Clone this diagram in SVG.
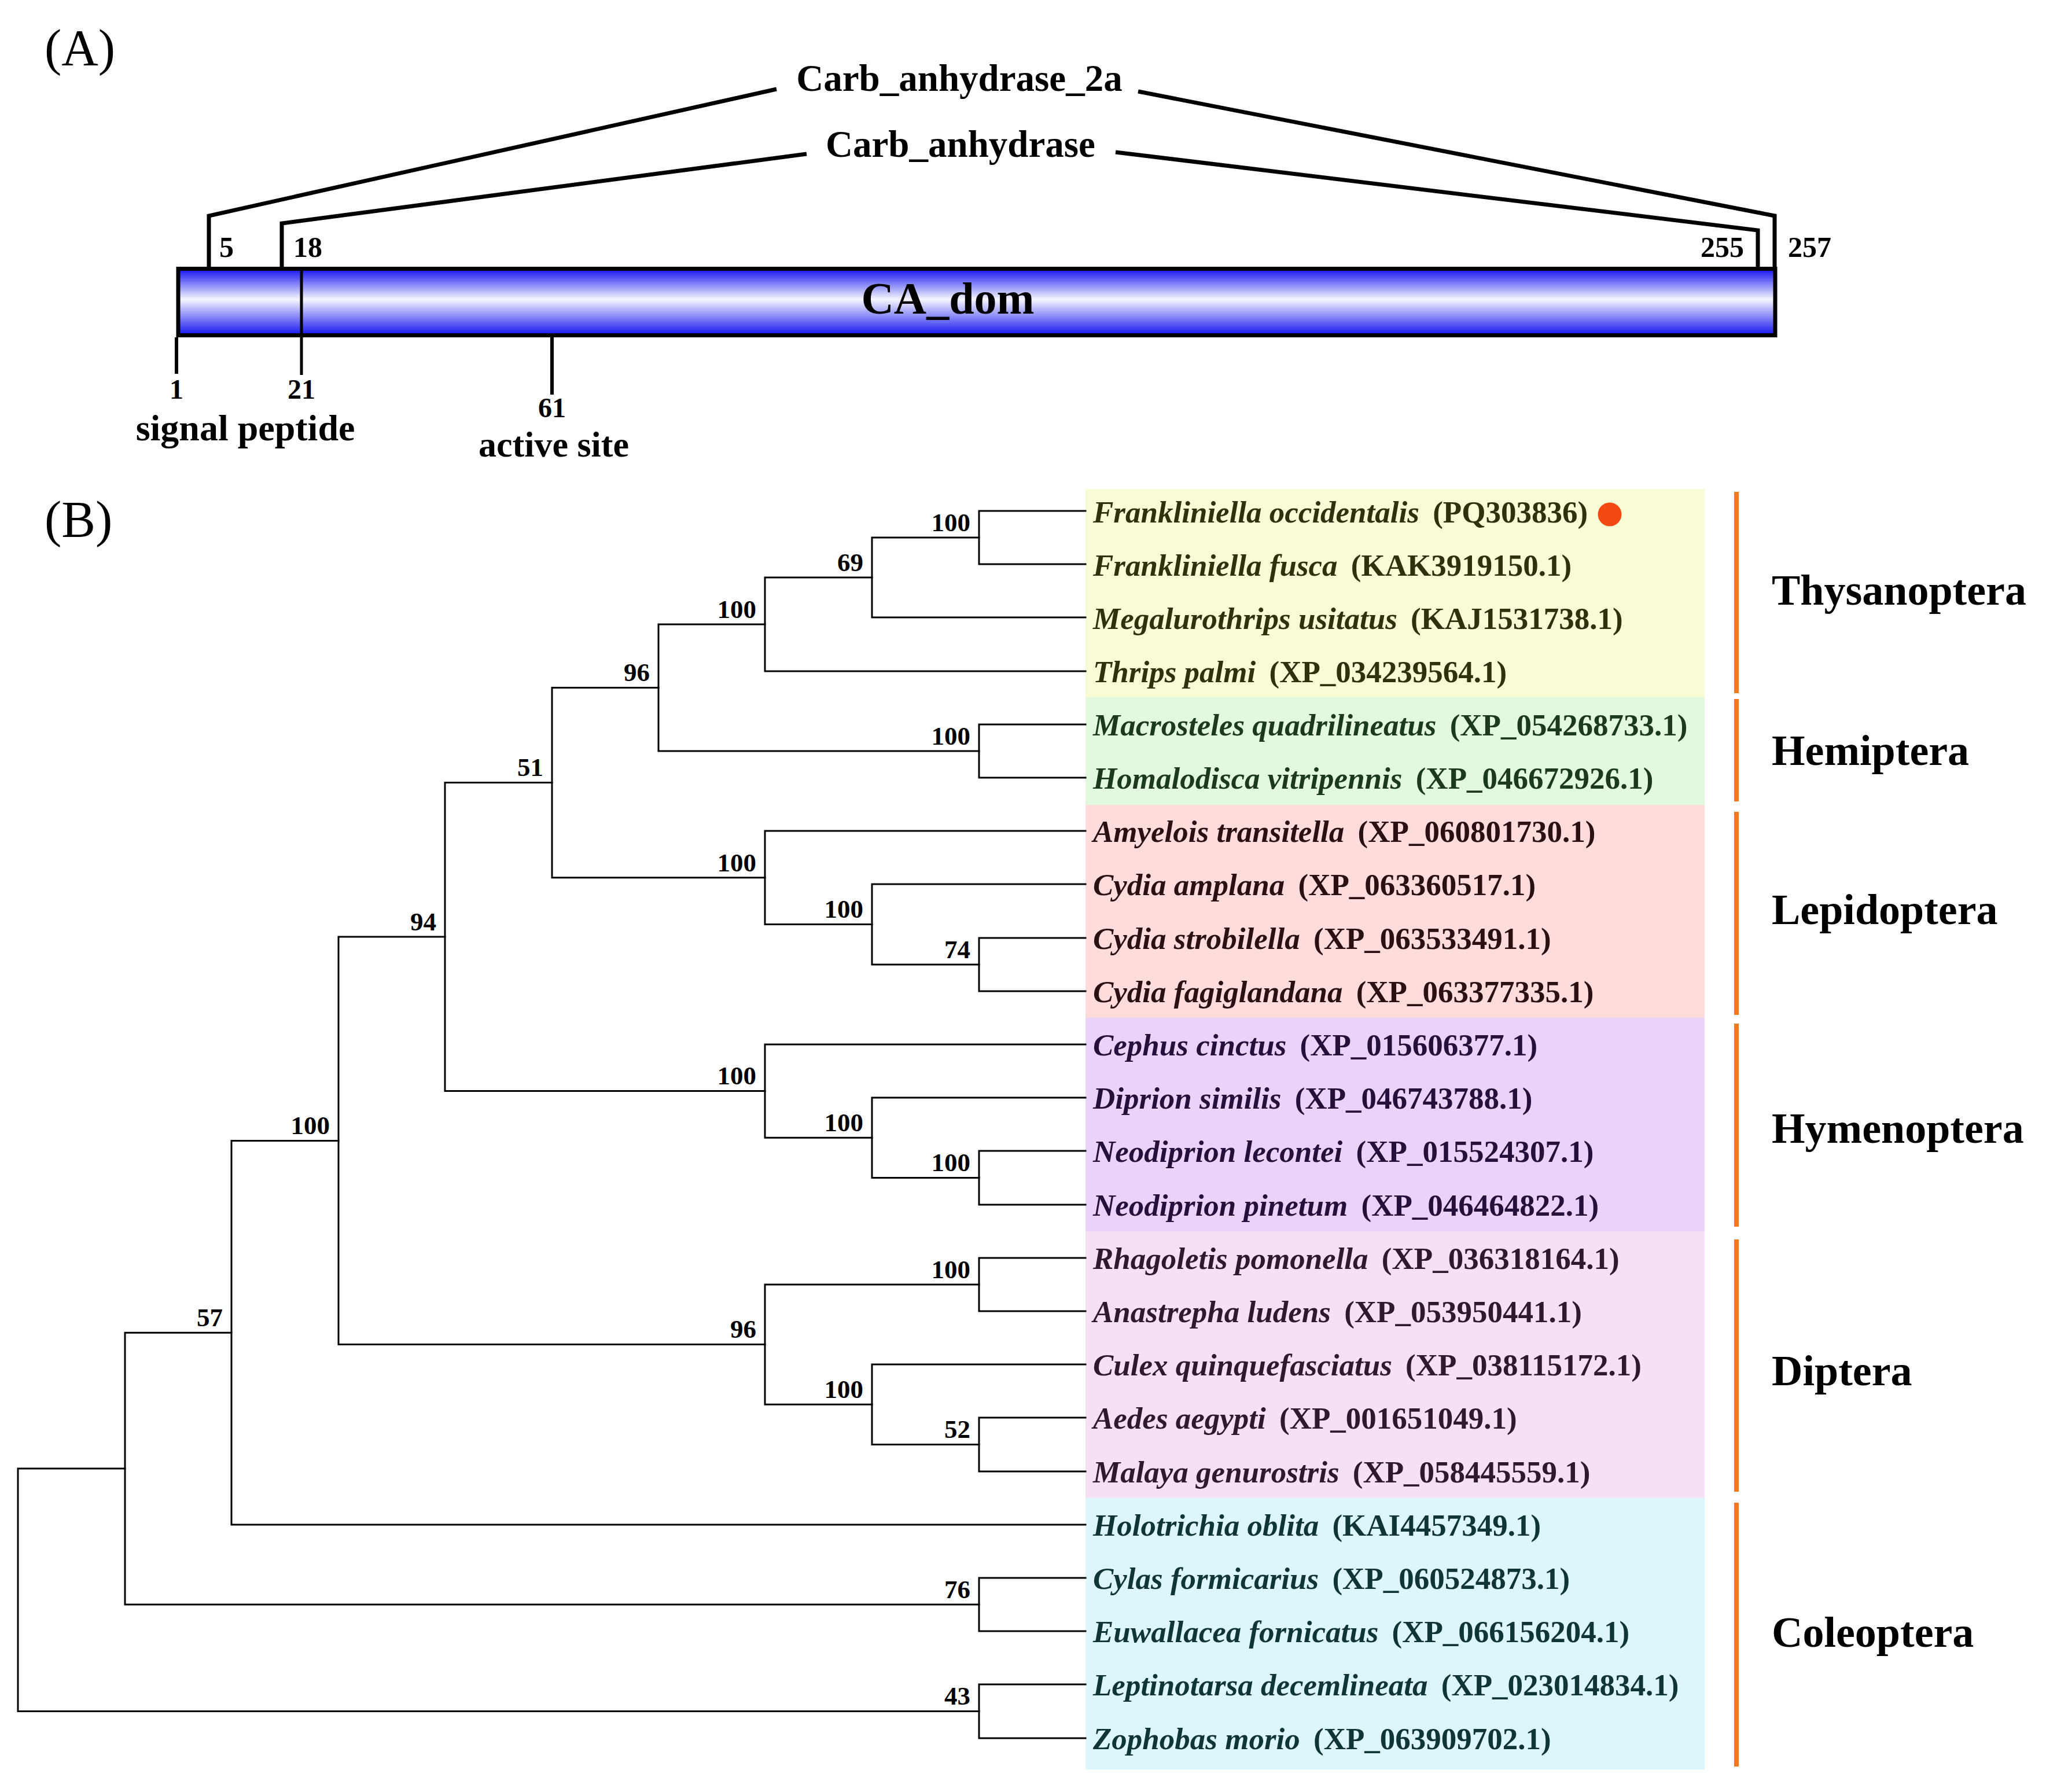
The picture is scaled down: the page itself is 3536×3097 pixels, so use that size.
<svg xmlns="http://www.w3.org/2000/svg" width="3536" height="3097" viewBox="0 0 3536 3097">
<style>
.t{font-family:"Liberation Serif","Times New Roman",serif;font-weight:bold}
.pl{font-family:"Liberation Serif","Times New Roman",serif;font-weight:normal}
.num{font-size:48px}
.bs{font-size:45px;text-anchor:end}
.lf{font-size:53px}
.sp{font-style:italic}
.grp{font-size:74px;fill:#000}
.br{fill:none;stroke:#000;stroke-width:3;stroke-linecap:square}
.dl{fill:none;stroke:#000;stroke-width:7;stroke-linejoin:miter}
.tick{stroke:#000;stroke-width:6}
.ob{stroke:#F47A20;stroke-width:8}
</style>
<defs>
<linearGradient id="bar" x1="0" y1="0" x2="0" y2="1">
<stop offset="0" stop-color="#1212EE"/>
<stop offset="0.46" stop-color="#F6F6FF"/>
<stop offset="1" stop-color="#1212EE"/>
</linearGradient>
</defs>
<rect width="3536" height="3097" fill="#fff"/>

<!-- Panel A -->
<g id="panelA">
<text class="pl" x="77" y="112" font-size="88">(A)</text>
<g id="domain-lines">
<polyline class="dl" points="1342,154 361,373 361,462"/>
<polyline class="dl" points="1967,158 3067,373 3067,462"/>
<polyline class="dl" points="1394,266 487,386 487,462"/>
<polyline class="dl" points="1928,263 3038,398 3038,462"/>
</g>
<text class="t" x="1658" y="157" font-size="65" text-anchor="middle">Carb_anhydrase_2a</text>
<text class="t" x="1660" y="271" font-size="65" text-anchor="middle">Carb_anhydrase</text>
<text class="t" x="379" y="444" font-size="50">5</text>
<text class="t" x="507" y="444" font-size="50">18</text>
<text class="t" x="2939" y="444" font-size="50">255</text>
<text class="t" x="3090" y="444" font-size="50">257</text>
<g id="ca-dom">
<rect x="308" y="464.5" width="2760" height="115" fill="url(#bar)" stroke="#000" stroke-width="7"/>
<line x1="521" y1="462" x2="521" y2="648" stroke="#000" stroke-width="5"/>
<text class="t" x="1638" y="542" font-size="78" text-anchor="middle">CA_dom</text>
</g>
<line class="tick" x1="305" y1="583" x2="305" y2="646"/>
<line class="tick" x1="954" y1="583" x2="954" y2="682"/>
<text class="t num" x="305" y="689" text-anchor="middle">1</text>
<text class="t num" x="521" y="689" text-anchor="middle">21</text>
<text class="t num" x="954" y="721" text-anchor="middle">61</text>
<text class="t" x="424" y="761" font-size="64" text-anchor="middle">signal peptide</text>
<text class="t" x="957" y="789" font-size="62" text-anchor="middle">active site</text>
</g>

<!-- Panel B -->
<text class="pl" x="77" y="927" font-size="88">(B)</text>

<g id="clade-bg">
<rect x="1876" y="845" width="1070" height="360" fill="#F8FBD3"/>
<rect x="1876" y="1205" width="1070" height="186" fill="#E2F9DF"/>
<rect x="1876" y="1391" width="1070" height="368" fill="#FDDCDB"/>
<rect x="1876" y="1759" width="1070" height="369" fill="#E9D3F9"/>
<rect x="1876" y="2128" width="1070" height="461" fill="#F6E0F4"/>
<rect x="1876" y="2589" width="1070" height="469" fill="#DDF6FA"/>
</g>

<g id="connectors">
<path class="br" d="M1692,883V975M1692,883H1876M1692,975H1876"/>
<path class="br" d="M1507,929V1067M1507,929H1692M1507,1067H1876"/>
<path class="br" d="M1322,998V1160M1322,998H1507M1322,1160H1876"/>
<path class="br" d="M1692,1252V1344M1692,1252H1876M1692,1344H1876"/>
<path class="br" d="M1138,1079V1298M1138,1079H1322M1138,1298H1692"/>
<path class="br" d="M1692,1621V1713M1692,1621H1876M1692,1713H1876"/>
<path class="br" d="M1507,1528V1667M1507,1528H1876M1507,1667H1692"/>
<path class="br" d="M1322,1436V1597.5M1322,1436H1876M1322,1597.5H1507"/>
<path class="br" d="M954,1188.5V1516.75M954,1188.5H1138M954,1516.75H1322"/>
<path class="br" d="M1692,1989V2082M1692,1989H1876M1692,2082H1876"/>
<path class="br" d="M1507,1897V2035.5M1507,1897H1876M1507,2035.5H1692"/>
<path class="br" d="M1322,1805V1966.25M1322,1805H1876M1322,1966.25H1507"/>
<path class="br" d="M769,1352.6V1885.6M769,1352.6H954M769,1885.6H1322"/>
<path class="br" d="M1692,2174V2266M1692,2174H1876M1692,2266H1876"/>
<path class="br" d="M1692,2450V2543M1692,2450H1876M1692,2543H1876"/>
<path class="br" d="M1507,2358V2496.5M1507,2358H1876M1507,2496.5H1692"/>
<path class="br" d="M1322,2220V2427.25M1322,2220H1692M1322,2427.25H1507"/>
<path class="br" d="M585,1619.1V2323.6M585,1619.1H769M585,2323.6H1322"/>
<path class="br" d="M400,1971.4V2635M400,1971.4H585M400,2635H1876"/>
<path class="br" d="M1692,2727V2819M1692,2727H1876M1692,2819H1876"/>
<path class="br" d="M216,2303.2V2773M216,2303.2H400M216,2773H1692"/>
<path class="br" d="M1692,2911V3004M1692,2911H1876M1692,3004H1876"/>
<path class="br" d="M31,2538.1V2957.5M31,2538.1H216M31,2957.5H1692"/>
</g>

<g id="bootstrap">
<text class="t bs" x="1677" y="918">100</text>
<text class="t bs" x="1492" y="987">69</text>
<text class="t bs" x="1307" y="1068">100</text>
<text class="t bs" x="1677" y="1287">100</text>
<text class="t bs" x="1123" y="1177">96</text>
<text class="t bs" x="1677" y="1656">74</text>
<text class="t bs" x="1492" y="1586">100</text>
<text class="t bs" x="1307" y="1506">100</text>
<text class="t bs" x="939" y="1341">51</text>
<text class="t bs" x="1677" y="2024">100</text>
<text class="t bs" x="1492" y="1955">100</text>
<text class="t bs" x="1307" y="1874">100</text>
<text class="t bs" x="754" y="1608">94</text>
<text class="t bs" x="1677" y="2209">100</text>
<text class="t bs" x="1677" y="2485">52</text>
<text class="t bs" x="1492" y="2416">100</text>
<text class="t bs" x="1307" y="2312">96</text>
<text class="t bs" x="570" y="1960">100</text>
<text class="t bs" x="385" y="2292">57</text>
<text class="t bs" x="1677" y="2762">76</text>
<text class="t bs" x="1677" y="2946">43</text>
</g>

<g id="leaves">
<g fill="#2F300E">
<text class="t lf" x="1889" y="903"><tspan class="sp">Frankliniella occidentalis</tspan><tspan dx="10"> (PQ303836)</tspan></text>
<text class="t lf" x="1889" y="995"><tspan class="sp">Frankliniella fusca</tspan><tspan dx="10"> (KAK3919150.1)</tspan></text>
<text class="t lf" x="1889" y="1087"><tspan class="sp">Megalurothrips usitatus</tspan><tspan dx="10"> (KAJ1531738.1)</tspan></text>
<text class="t lf" x="1889" y="1179"><tspan class="sp">Thrips palmi</tspan><tspan dx="10"> (XP_034239564.1)</tspan></text>
</g>
<circle cx="2782" cy="889" r="20.5" fill="#F24A12"/>
<g fill="#1B3A1B">
<text class="t lf" x="1889" y="1271"><tspan class="sp">Macrosteles quadrilineatus</tspan><tspan dx="10"> (XP_054268733.1)</tspan></text>
<text class="t lf" x="1889" y="1363"><tspan class="sp">Homalodisca vitripennis</tspan><tspan dx="10"> (XP_046672926.1)</tspan></text>
</g>
<g fill="#2A1012">
<text class="t lf" x="1889" y="1455"><tspan class="sp">Amyelois transitella</tspan><tspan dx="10"> (XP_060801730.1)</tspan></text>
<text class="t lf" x="1889" y="1547"><tspan class="sp">Cydia amplana</tspan><tspan dx="10"> (XP_063360517.1)</tspan></text>
<text class="t lf" x="1889" y="1640"><tspan class="sp">Cydia strobilella</tspan><tspan dx="10"> (XP_063533491.1)</tspan></text>
<text class="t lf" x="1889" y="1732"><tspan class="sp">Cydia fagiglandana</tspan><tspan dx="10"> (XP_063377335.1)</tspan></text>
</g>
<g fill="#24103A">
<text class="t lf" x="1889" y="1824"><tspan class="sp">Cephus cinctus</tspan><tspan dx="10"> (XP_015606377.1)</tspan></text>
<text class="t lf" x="1889" y="1916"><tspan class="sp">Diprion similis</tspan><tspan dx="10"> (XP_046743788.1)</tspan></text>
<text class="t lf" x="1889" y="2008"><tspan class="sp">Neodiprion lecontei</tspan><tspan dx="10"> (XP_015524307.1)</tspan></text>
<text class="t lf" x="1889" y="2101"><tspan class="sp">Neodiprion pinetum</tspan><tspan dx="10"> (XP_046464822.1)</tspan></text>
</g>
<g fill="#2E1A2C">
<text class="t lf" x="1889" y="2193"><tspan class="sp">Rhagoletis pomonella</tspan><tspan dx="10"> (XP_036318164.1)</tspan></text>
<text class="t lf" x="1889" y="2285"><tspan class="sp">Anastrepha ludens</tspan><tspan dx="10"> (XP_053950441.1)</tspan></text>
<text class="t lf" x="1889" y="2377"><tspan class="sp">Culex quinquefasciatus</tspan><tspan dx="10"> (XP_038115172.1)</tspan></text>
<text class="t lf" x="1889" y="2469"><tspan class="sp">Aedes aegypti</tspan><tspan dx="10"> (XP_001651049.1)</tspan></text>
<text class="t lf" x="1889" y="2562"><tspan class="sp">Malaya genurostris</tspan><tspan dx="10"> (XP_058445559.1)</tspan></text>
</g>
<g fill="#0F3535">
<text class="t lf" x="1889" y="2654"><tspan class="sp">Holotrichia oblita</tspan><tspan dx="10"> (KAI4457349.1)</tspan></text>
<text class="t lf" x="1889" y="2746"><tspan class="sp">Cylas formicarius</tspan><tspan dx="10"> (XP_060524873.1)</tspan></text>
<text class="t lf" x="1889" y="2838"><tspan class="sp">Euwallacea fornicatus</tspan><tspan dx="10"> (XP_066156204.1)</tspan></text>
<text class="t lf" x="1889" y="2930"><tspan class="sp">Leptinotarsa decemlineata</tspan><tspan dx="10"> (XP_023014834.1)</tspan></text>
<text class="t lf" x="1889" y="3023"><tspan class="sp">Zophobas morio</tspan><tspan dx="10"> (XP_063909702.1)</tspan></text>
</g>
</g>

<g id="groups">
<line class="ob" x1="3001" y1="850" x2="3001" y2="1198"/>
<line class="ob" x1="3001" y1="1208" x2="3001" y2="1385"/>
<line class="ob" x1="3001" y1="1403" x2="3001" y2="1754"/>
<line class="ob" x1="3001" y1="1769" x2="3001" y2="2120"/>
<line class="ob" x1="3001" y1="2142" x2="3001" y2="2578"/>
<line class="ob" x1="3001" y1="2597" x2="3001" y2="3053"/>
<text class="t grp" x="3062" y="1045">Thysanoptera</text>
<text class="t grp" x="3062" y="1322">Hemiptera</text>
<text class="t grp" x="3062" y="1597">Lepidoptera</text>
<text class="t grp" x="3062" y="1975">Hymenoptera</text>
<text class="t grp" x="3062" y="2394">Diptera</text>
<text class="t grp" x="3062" y="2846">Coleoptera</text>
</g>
</svg>
